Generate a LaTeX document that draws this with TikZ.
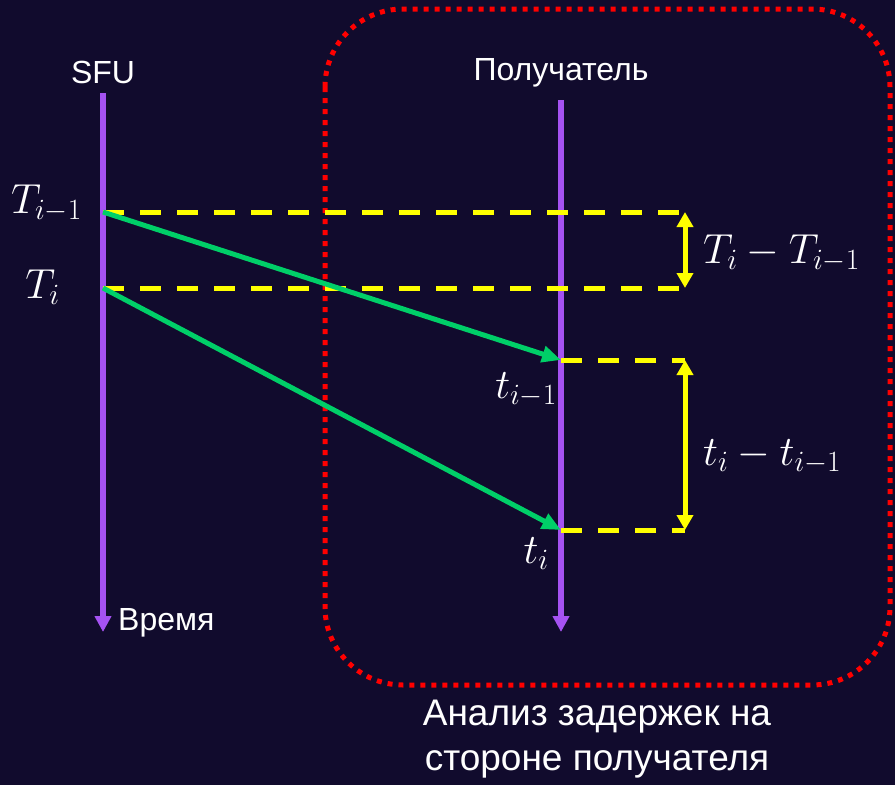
\documentclass[tikz,border=0pt]{standalone}
\usepackage{fix-cm}
\usepackage{fontspec}
\setmainfont{Liberation Sans}
\usetikzlibrary{arrows.meta}

\definecolor{bgnavy}{HTML}{110B2D}
\definecolor{timeviolet}{HTML}{A552F2}
\definecolor{pktgreen}{HTML}{00CF68}
\definecolor{markyellow}{HTML}{FFFF00}
\definecolor{zonered}{HTML}{FF0000}

\tikzset{
  timeaxis/.style={draw=timeviolet, line width=5.5pt, -{Triangle[length=16pt,width=16pt]}},
  packet/.style={draw=pktgreen, line width=5pt, -{Triangle[length=19pt,width=16pt]}},
  level/.style={draw=markyellow, line width=5pt, dash pattern=on 21pt off 16pt},
  span/.style={draw=markyellow, line width=5pt, {Triangle[length=15pt,width=16pt]}-{Triangle[length=15pt,width=16pt]}},
  lbl/.style={text=white, inner sep=0pt, font=\fontsize{32}{38}\selectfont},
  mathlbl/.style={text=white, inner sep=0pt, font=\fontsize{42}{48}\selectfont}
}

\begin{document}
\begin{tikzpicture}[x=1pt, y=-1pt]
  % Background
  \fill[bgnavy] (0,0) rectangle (895,785);
  \useasboundingbox (0,0) rectangle (895,785);

  % Receiver-side zone
  \draw[zonered, line width=5pt, dash pattern=on 5pt off 6pt, rounded corners=78pt]
    (325,9) rectangle (890,685);
  \node[lbl, font=\fontsize{37}{45}\selectfont, align=center, anchor=base]
    (zone) at (597,770) {Анализ задержек на\\стороне получателя};

  % Time axes
  \coordinate (sfuTop) at (103,93);
  \coordinate (sfuEnd) at (103,632);
  \coordinate (rcvTop) at (561,100);
  \coordinate (rcvEnd) at (561,632);
  \draw[timeaxis] (sfuTop) -- (sfuEnd);
  \draw[timeaxis] (rcvTop) -- (rcvEnd);

  \node[lbl, anchor=base] (sfu) at (103,83) {SFU};
  \node[lbl, anchor=base] (rcv) at (561,80) {Получатель};
  \node[lbl, anchor=base west] (time) at (118,630) {Время};

  % Send and receive instants
  \coordinate (Sprev) at (103,212);
  \coordinate (Scur) at (103,288);
  \coordinate (Rprev) at (561,360);
  \coordinate (Rcur) at (561,530);

  % Marker ends on the right
  \coordinate (SprevR) at (685,212);
  \coordinate (ScurR) at (685,288);
  \coordinate (RprevR) at (685,360);
  \coordinate (RcurR) at (685,530);

  % Dashed levels
  \draw[level] (Sprev) -- (SprevR);
  \draw[level] (Scur) -- (ScurR);
  \draw[level] (Rprev) -- (RprevR);
  \draw[level] (Rcur) -- (RcurR);

  % Packets
  \draw[packet] (Sprev) -- (Rprev);
  \draw[packet] (Scur) -- (Rcur);

  % Intervals
  \draw[span] (SprevR) -- (ScurR);
  \draw[span] (RprevR) -- (RcurR);

  % Labels
  \node[mathlbl, anchor=base east] (Tprev) at (82,213) {$T_{i-1}$};
  \node[mathlbl, anchor=base east] (Tcur) at (60,298) {$T_i$};
  \node[mathlbl, anchor=base east] (tprev) at (557,398) {$t_{i-1}$};
  \node[mathlbl, anchor=base east] (tcur) at (549,563) {$t_i$};
  \node[mathlbl, anchor=base west] (Tdiff) at (703,263) {$T_i-T_{i-1}$};
  \node[mathlbl, anchor=base west] (tdiff) at (703,465) {$t_i-t_{i-1}$};

\end{tikzpicture}
\end{document}
